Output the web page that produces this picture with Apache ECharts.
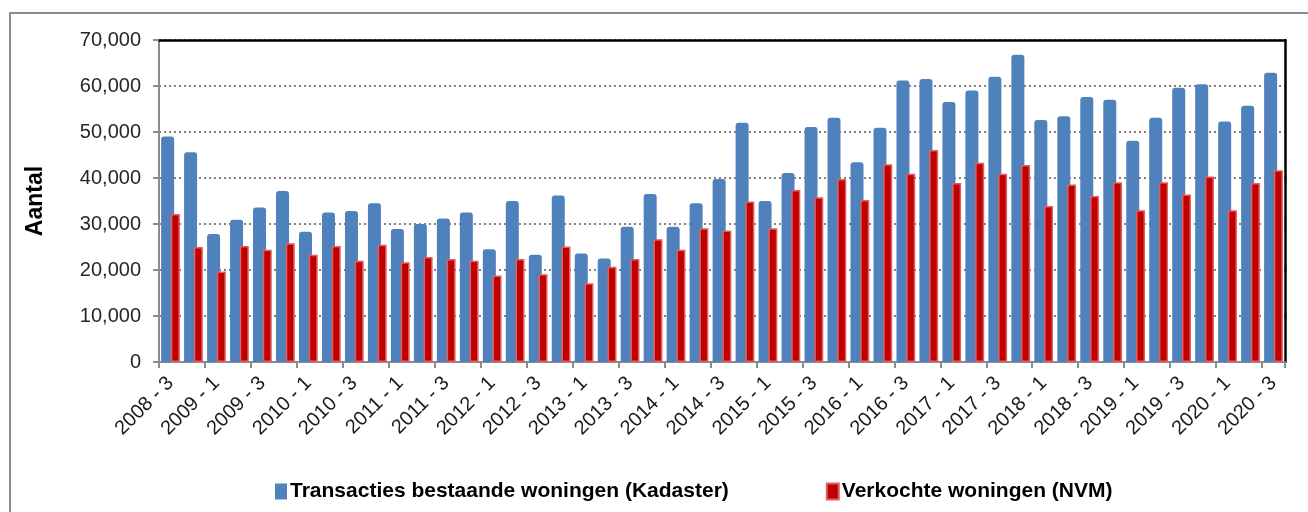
<!DOCTYPE html>
<html>
<head>
<meta charset="utf-8">
<script src="https://cdn.jsdelivr.net/npm/echarts@6/dist/echarts.min.js"></script>
<style>
  html, body { margin: 0; padding: 0; background: #fff; }
  #main { width: 1308px; height: 512px; }
</style>
</head>
<body>
<div id="main"></div>
<script>
// kwartalen 2008-3 t/m 2020-3
var quarters = [];
for (var y = 2008; y <= 2020; y++) {
  for (var q = 1; q <= 4; q++) {
    if ((y === 2008 && q < 3) || (y === 2020 && q > 3)) continue;
    quarters.push(y + ' - ' + q);
  }
}

var kadaster = [
  49000, 45600, 27800, 30900, 33600, 37200, 28300, 32500, 32800, 34500,
  28900, 30000, 31200, 32500, 24500, 35000, 23300, 36200, 23600, 22500,
  29400, 36500, 29400, 34500, 39800, 52000, 35000, 41100, 51100, 53100,
  43400, 50900, 61200, 61500, 56500, 59000, 62000, 66800, 52600, 53400,
  57600, 57000, 48100, 53100, 59600, 60400, 52300, 55700, 62900
];
var nvm = [
  32200, 25000, 19700, 25200, 24400, 25800, 23300, 25200, 22000, 25500,
  21700, 22800, 22400, 22000, 18800, 22400, 19100, 25100, 17100, 20700,
  22400, 26700, 24400, 29100, 28600, 34900, 29100, 37400, 35800, 39800,
  35200, 43000, 40900, 46100, 38900, 43300, 40900, 42800, 33900, 38600,
  36100, 39100, 33000, 39100, 36400, 40300, 33000, 38900, 41700
];
var yTicks = [0, 10000, 20000, 30000, 40000, 50000, 60000, 70000];

var myChart = echarts.init(document.getElementById('main'));
var fmt = function (v) { return String(v).replace(/\B(?=(\d{3})+(?!\d))/g, ','); };

var option = {
  backgroundColor: '#fff',
  animation: false,
  textStyle: { fontFamily: 'Liberation Sans, Arial, sans-serif' },
  graphic: [{
    type: 'rect',
    shape: { x: 10, y: 13, width: 1320, height: 520 },
    style: { fill: 'none', stroke: '#8c8c8c', lineWidth: 2 },
    silent: true
  }],
  grid: { left: 159, right: 23, top: 40, bottom: 150 },
  legend: {
    left: 270,
    top: 476,
    itemWidth: 12,
    itemHeight: 16,
    itemGap: 97,
    icon: 'rect',
    textStyle: { fontSize: 21, fontWeight: 'bold', color: '#000', padding: [0, 0, 0, -2] },
    data: ['Transacties bestaande woningen (Kadaster)', 'Verkochte woningen (NVM)']
  },
  xAxis: [{
    type: 'category',
    data: quarters,
    axisLine: { lineStyle: { color: '#8c8c8c', width: 2 } },
    axisTick: { show: true, length: 6, lineStyle: { color: '#8c8c8c', width: 2 } },
    axisLabel: { interval: 1, rotate: 45, fontSize: 20, color: '#1a1a1a', margin: 18 }
  }, {
    type: 'category',
    position: 'top',
    data: quarters,
    axisLine: { onZero: false, lineStyle: { color: '#000', width: 2.5 } },
    axisTick: { show: false },
    axisLabel: { show: false }
  }],
  yAxis: [{
    type: 'value',
    min: 0,
    max: 70000,
    interval: 10000,
    name: 'Aantal',
    nameLocation: 'middle',
    nameGap: 112,
    nameRotate: 90,
    nameTextStyle: { fontSize: 23, fontWeight: 'bold', color: '#000' },
    axisLine: { show: true, lineStyle: { color: '#8c8c8c', width: 2 } },
    axisTick: { show: true, length: 6, lineStyle: { color: '#8c8c8c', width: 2 } },
    axisLabel: {
      fontSize: 20, color: '#262626', margin: 18,
      formatter: function (v) { return yTicks.indexOf(v) >= 0 ? fmt(v) : ''; }
    },
    splitLine: { show: true, lineStyle: { color: '#7f7f7f', type: [2, 3], width: 2 } }
  }, {
    type: 'value',
    position: 'right',
    min: 0,
    max: 70000,
    interval: 10000,
    axisLine: { show: true, onZero: false, lineStyle: { color: '#000', width: 2.5 } },
    axisTick: { show: false },
    axisLabel: { show: false },
    splitLine: { show: false }
  }],
  series: [{
    name: 'Transacties bestaande woningen (Kadaster)',
    type: 'bar',
    data: kadaster,
    barWidth: 13,
    barGap: '-25%',
    itemStyle: { color: '#4f81bd', borderRadius: [3, 3, 0, 0] }
  }, {
    name: 'Verkochte woningen (NVM)',
    type: 'bar',
    data: nvm,
    barWidth: 9,
    z: 3,
    itemStyle: { color: '#c00000', borderColor: '#e0605f', borderWidth: 1.5 }
  }]
};

myChart.setOption(option);
window.onresize = function () { myChart.resize(); };
</script>
</body>
</html>
